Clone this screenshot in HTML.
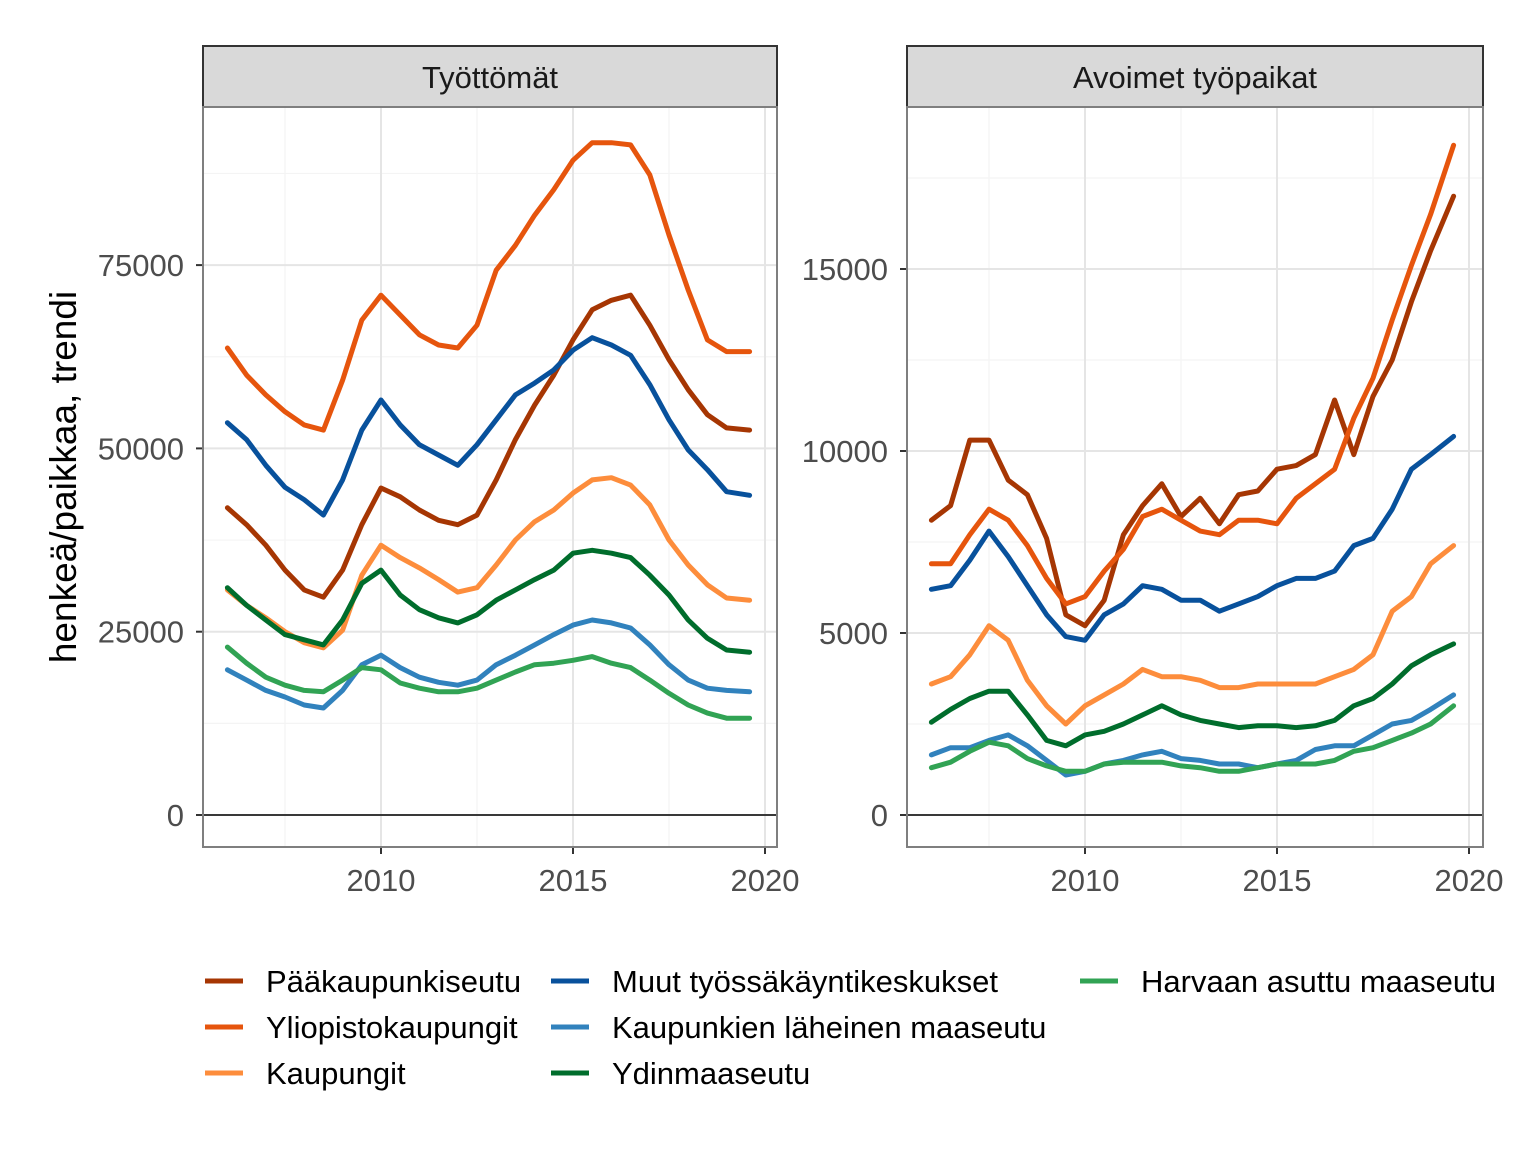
<!DOCTYPE html>
<html><head><meta charset="utf-8"><style>
body{margin:0;background:#fff;}
svg{display:block;font-family:"Liberation Sans",Arial,sans-serif;}
</style></head><body>
<svg id="c" width="1536" height="1152" viewBox="0 0 1536 1152"></svg>
<script>
const years=[2006,2006.5,2007,2007.5,2008,2008.5,2009,2009.5,2010,2010.5,2011,2011.5,2012,2012.5,2013,2013.5,2014,2014.5,2015,2015.5,2016,2016.5,2017,2017.5,2018,2018.5,2019,2019.6];
const seriesNames=["Pääkaupunkiseutu","Yliopistokaupungit","Kaupungit","Muut työssäkäyntikeskukset","Kaupunkien läheinen maaseutu","Ydinmaaseutu","Harvaan asuttu maaseutu"];
const seriesColors=["#a63603","#e6550d","#fd8d3c","#08519c","#3182bd","#006d2c","#31a354"];
// Left panel: Työttömät
const unempPaak=[41900,39600,36800,33400,30700,29700,33400,39600,44600,43400,41600,40200,39600,40900,45700,51200,55900,60000,64800,68900,70200,70900,66800,62100,58000,54600,52800,52500];
const unempYlio=[63700,60000,57300,55000,53200,52500,59300,67500,70900,68200,65500,64100,63700,66800,74300,77700,81800,85300,89300,91700,91700,91400,87300,79100,71600,64800,63200,63200];
const unempKaup=[30700,28600,26900,25000,23500,22800,25200,32700,36800,35100,33700,32100,30400,31000,34100,37500,40000,41600,43900,45700,46000,45000,42300,37500,34100,31400,29600,29300];
const unempMuut=[53500,51200,47700,44700,43000,40900,45700,52500,56600,53200,50500,49100,47700,50500,53900,57300,58900,60700,63400,65100,64100,62700,58700,53900,49800,47100,44100,43600];
const unempLah=[19800,18400,17000,16100,15000,14600,17000,20500,21800,20100,18800,18100,17700,18400,20500,21800,23200,24600,25900,26600,26200,25500,23200,20500,18400,17300,17000,16800];
const unempYdin=[31000,28600,26600,24600,23900,23200,26600,31600,33400,30000,28000,26900,26200,27300,29300,30700,32100,33400,35700,36100,35700,35100,32700,30000,26600,24100,22500,22200];
const unempHarv=[22900,20700,18800,17700,17000,16800,18400,20100,19800,18000,17300,16800,16800,17300,18400,19500,20500,20700,21100,21600,20700,20100,18400,16600,15000,13900,13200,13200];
// Right panel: Avoimet työpaikat
const vacPaak=[8100,8500,10300,10300,9200,8800,7600,5500,5200,5900,7700,8500,9100,8200,8700,8000,8800,8900,9500,9600,9900,11400,9900,11500,12500,14100,15500,17000];
const vacYlio=[6900,6900,7700,8400,8100,7400,6500,5800,6000,6700,7300,8200,8400,8100,7800,7700,8100,8100,8000,8700,9100,9500,10900,12000,13600,15100,16500,18400];
const vacKaup=[3600,3800,4400,5200,4800,3700,3000,2500,3000,3300,3600,4000,3800,3800,3700,3500,3500,3600,3600,3600,3600,3800,4000,4400,5600,6000,6900,7400];
const vacMuut=[6200,6300,7000,7800,7100,6300,5500,4900,4800,5500,5800,6300,6200,5900,5900,5600,5800,6000,6300,6500,6500,6700,7400,7600,8400,9500,9900,10400];
const vacLah=[1650,1850,1850,2050,2200,1900,1500,1100,1200,1400,1500,1650,1750,1550,1500,1400,1400,1300,1400,1500,1800,1900,1900,2200,2500,2600,2900,3300];
const vacYdin=[2550,2900,3200,3400,3400,2750,2050,1900,2200,2300,2500,2750,3000,2750,2600,2500,2400,2450,2450,2400,2450,2600,3000,3200,3600,4100,4400,4700];
const vacHarv=[1300,1450,1750,2000,1900,1550,1350,1200,1200,1400,1450,1450,1450,1350,1300,1200,1200,1300,1400,1400,1400,1500,1750,1850,2050,2250,2500,3000];
const xTicks=[2010,2015,2020];
const leftYTicks=[0,25000,50000,75000];
const rightYTicks=[0,5000,10000,15000];

const NS="http://www.w3.org/2000/svg";
const svg=document.getElementById('c');
function mk(tag,attrs,parent){const e=document.createElementNS(NS,tag);for(const k in attrs)e.setAttribute(k,attrs[k]);(parent||svg).appendChild(e);return e;}

const panels=[
 {title:"Työttömät",x0:203,x1:777,x2010:381,yPerUnit:183.3/25000,ticks:leftYTicks,minor:[12500,37500,62500,87500],data:[unempPaak,unempYlio,unempKaup,unempMuut,unempLah,unempYdin,unempHarv],name:"unemployed"},
 {title:"Avoimet työpaikat",x0:907,x1:1483,x2010:1085,yPerUnit:182/5000,ticks:rightYTicks,minor:[2500,7500,12500,17500],data:[vacPaak,vacYlio,vacKaup,vacMuut,vacLah,vacYdin,vacHarv],name:"vacancies"}
];
const yTop=107,yBot=847,y0=815;
panels.forEach(p=>{
 const xs=v=>p.x2010+(v-2010)*38.4;
 const ys=v=>y0-v*p.yPerUnit;
 const g=mk('g',{});
 
 
 const strip=mk('rect',{x:p.x0,y:46,width:p.x1-p.x0,height:61,fill:'#d9d9d9',stroke:'#333',"stroke-width":2},g);
 
 
 const st=mk('text',{x:(p.x0+p.x1)/2,y:88,"text-anchor":"middle","font-size":31,fill:'#1a1a1a'},g);
 st.textContent=p.title;
 
 
 p.minor.forEach(v=>{const y=ys(v);if(y>yTop)mk('line',{x1:p.x0,x2:p.x1,y1:y,y2:y,stroke:'#f4f4f4',"stroke-width":1.2},g);});
 [2007.5,2012.5,2017.5].forEach(v=>mk('line',{x1:xs(v),x2:xs(v),y1:yTop,y2:yBot,stroke:'#f4f4f4',"stroke-width":1.2},g));
 p.ticks.forEach(v=>{const y=ys(v);
  mk('line',{x1:p.x0,x2:p.x1,y1:y,y2:y,stroke:'#e5e5e5',"stroke-width":2},g);
  mk('line',{x1:p.x0-7,x2:p.x0,y1:y,y2:y,stroke:'#333',"stroke-width":2},g);
  const t=mk('text',{x:p.x0-19,y:y+11,"text-anchor":"end","font-size":31,fill:'#4d4d4d'},g);t.textContent=v;
  
  
 });
 xTicks.forEach(v=>{const x=xs(v);
  mk('line',{x1:x,x2:x,y1:yTop,y2:yBot,stroke:'#e5e5e5',"stroke-width":2},g);
  mk('line',{x1:x,x2:x,y1:yBot,y2:yBot+7,stroke:'#333',"stroke-width":2},g);
  const t=mk('text',{x:x,y:891,"text-anchor":"middle","font-size":31,fill:'#4d4d4d'},g);t.textContent=v;
  
  
 });
 mk('line',{x1:p.x0,x2:p.x1,y1:y0,y2:y0,stroke:'#000',"stroke-width":1.5},g);
 p.data.forEach((arr,i)=>{
  const d=arr.map((v,j)=>(j?'L':'M')+xs(years[j]).toFixed(1)+','+ys(v).toFixed(1)).join('');
  const path=mk('path',{d:d,fill:'none',stroke:seriesColors[i],"stroke-width":5,"stroke-linejoin":"round","stroke-linecap":"round"},g);
  
  
 });
 mk('rect',{x:p.x0,y:yTop,width:p.x1-p.x0,height:yBot-yTop,fill:'none',stroke:'#7f7f7f',"stroke-width":2},g);
});
const yt=mk('text',{x:0,y:0,transform:'translate(76,477) rotate(-90)',"text-anchor":"middle","font-size":37,fill:'#000'});
yt.textContent="henkeä/paikkaa, trendi";


const legPos=[[205,981],[205,1027],[205,1073],[551,981],[551,1027],[551,1073],[1080,981]];
seriesNames.forEach((n,i)=>{
 const [x,y]=legPos[i];
 const g=mk('g',{});
 
 
 mk('line',{x1:x,x2:x+38,y1:y,y2:y,stroke:seriesColors[i],"stroke-width":5},g);
 const t=mk('text',{x:x+61,y:y+11,"font-size":31,fill:'#000'},g);t.textContent=n;
});
</script>
</body></html>
